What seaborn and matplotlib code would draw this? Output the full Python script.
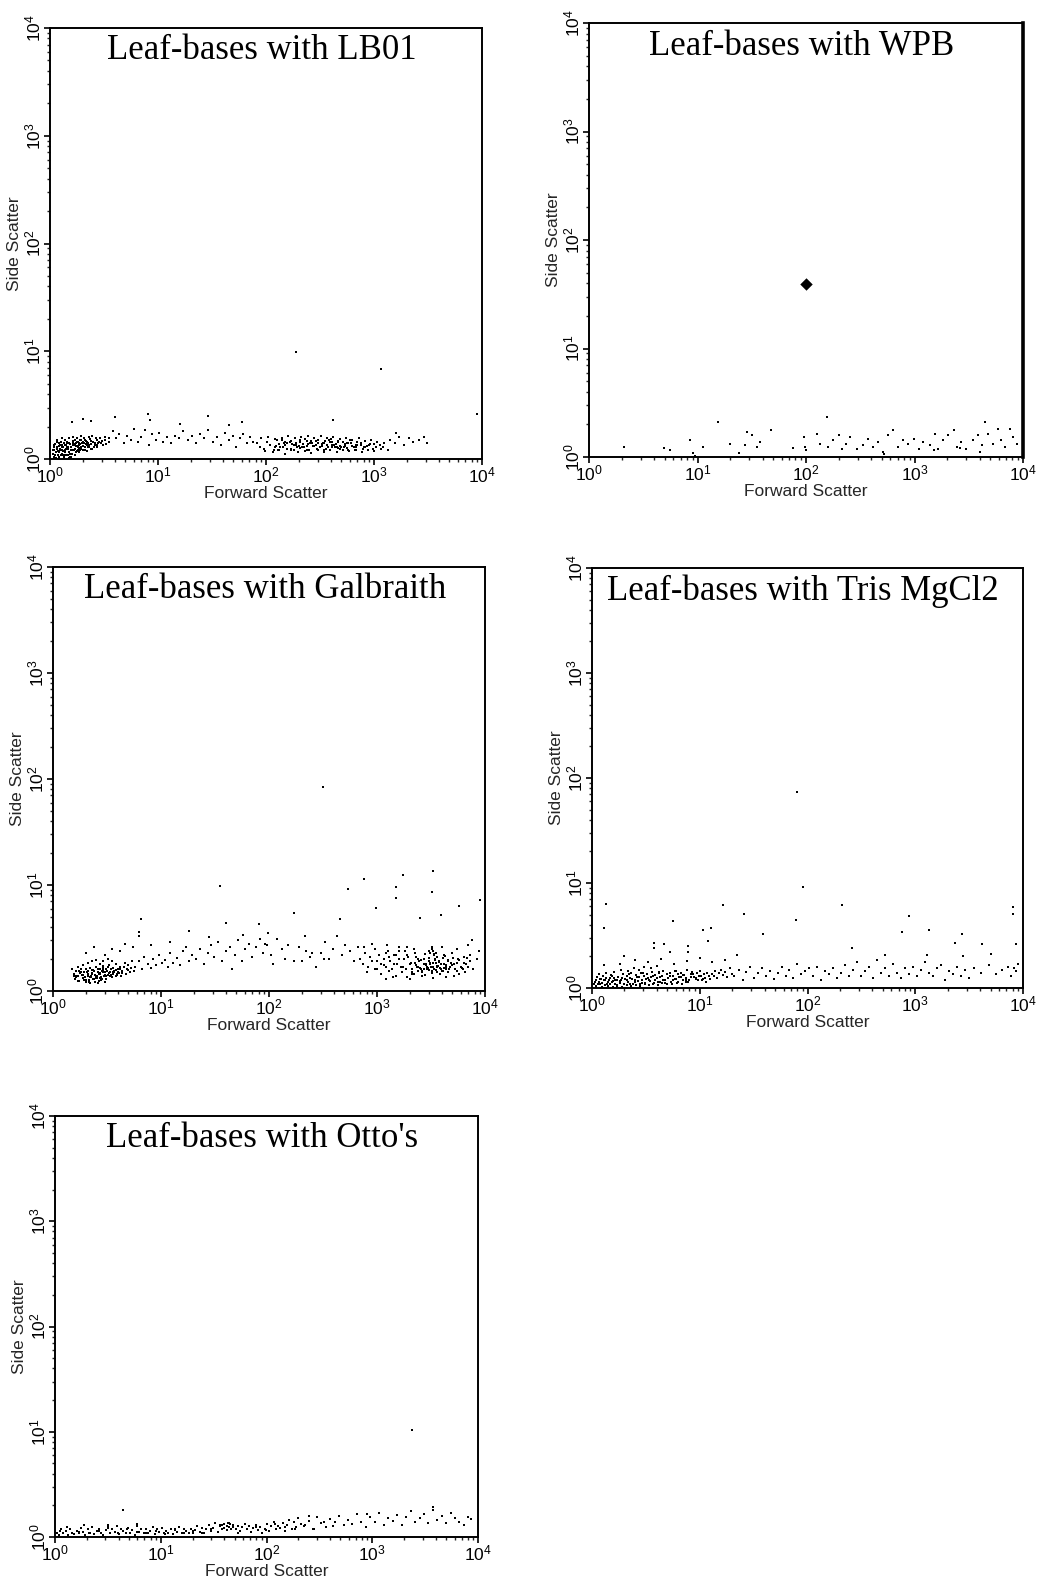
import matplotlib
matplotlib.use("Agg")
import matplotlib.pyplot as plt
import numpy as np
import pandas as pd
import seaborn as sns
from matplotlib.ticker import LogLocator, LogFormatterSciNotation, NullFormatter

# ---------------- data (Forward Scatter, Side Scatter) ----------------
titles = ["Leaf-bases with LB01", "Leaf-bases with WPB", "Leaf-bases with Galbraith",
          "Leaf-bases with Tris MgCl2", "Leaf-bases with Otto's"]
x_label = "Forward Scatter"
y_label = "Side Scatter"
decades = [1, 10, 100, 1000, 10000]

lb01_fsc = [
    1.08, 1.1, 1.12, 1.15, 1.18, 1.2, 1.22, 1.25, 1.28, 1.3,
    1.32, 1.35, 1.38, 1.4, 1.42, 1.45, 1.48, 1.5, 1.52, 1.55,
    1.58, 1.6, 1.62, 1.65, 1.68, 1.7, 1.72, 1.75, 1.78, 1.8,
    1.82, 1.85, 1.88, 1.9, 1.95, 2.0, 2.05, 2.1, 2.15, 2.2,
    2.25, 2.3, 2.35, 2.4, 2.5, 2.6, 2.7, 2.8, 2.9, 3.0,
    1.09, 1.13, 1.17, 1.21, 1.24, 1.27, 1.33, 1.37, 1.43, 1.47,
    1.1, 1.16, 1.3, 1.5, 1.64, 1.76, 1.92, 2.08, 2.28, 2.45,
    1.2, 1.36, 1.53, 1.7, 1.87, 2.02, 2.18, 2.38, 2.55, 2.75,
    1.06, 1.1, 1.14, 1.18, 1.22, 1.26, 1.3, 1.34, 1.38, 1.42,
    1.46, 1.5, 1.54, 1.58, 1.62, 1.66, 1.7, 1.74, 1.78, 1.82,
    1.86, 1.9, 1.94, 1.98, 2.04, 2.1, 2.16, 2.22, 2.3, 2.38,
    1.07, 1.11, 1.15, 1.19, 1.23, 1.28, 1.33, 1.39, 1.45, 1.51,
    1.57, 1.63, 1.69, 1.75, 1.81, 1.87, 1.93, 2.0, 2.12, 2.26,
    2.45, 2.6, 2.75, 2.95, 3.2, 3.5, 3.3, 2.65, 2.85, 3.1,
    3.2, 3.5, 3.8, 4.1, 4.4, 4.8, 5.2, 5.6, 6.0, 6.5,
    7.0, 7.6, 8.2, 8.8, 9.5, 10.3, 11.2, 12.2, 13.3, 14.5,
    15.8, 17.2, 18.8, 20.5, 22.4, 24.5, 26.8, 29.3, 32, 35,
    38, 41.5, 45, 49, 53, 57, 61, 66, 71, 76,
    1.6, 2.0, 2.4, 4.0, 8.0, 8.5, 16, 29, 45, 60,
    82, 88, 95, 102, 110, 118, 127, 136, 146, 157,
    168, 180, 193, 207, 222, 238, 255, 273, 292, 313,
    335, 358, 383, 410, 438, 468, 500, 535, 572, 612,
    655, 700, 750, 800, 860, 920, 985, 1050, 1130, 1220,
    90, 105, 122, 140, 160, 185, 212, 245, 280, 320,
    365, 420, 480, 550, 630, 720, 820, 940, 1070, 1250,
    98, 115, 132, 150, 172, 198, 228, 262, 300, 345,
    395, 450, 515, 590, 675, 770, 880, 1000, 1150, 1350,
    125, 150, 175, 205, 240, 280, 330, 390, 460, 540,
    120, 132, 145, 158, 172, 188, 205, 224, 244, 266,
    290, 316, 345, 376, 410, 447, 487, 531, 579, 631,
    688, 750, 818, 892, 130, 155, 182, 214, 252, 296,
    348, 410, 482, 567, 667, 785, 140, 170, 230, 260,
    300, 350, 400, 460, 520, 600, 700, 200, 330, 430,
    150, 190, 240, 300, 370, 450, 560, 680, 830, 1000,
    1400, 1550, 1700, 1900, 2100, 2300, 2600, 2900, 3100, 1600,
    190, 1150, 9000, 420,
]
lb01_ssc = [
    1.05, 1.2, 1.1, 1.3, 1.08, 1.15, 1.4, 1.22, 1.12, 1.3,
    1.18, 1.05, 1.35, 1.25, 1.1, 1.45, 1.3, 1.15, 1.38, 1.22,
    1.28, 1.12, 1.42, 1.2, 1.35, 1.5, 1.25, 1.4, 1.18, 1.32,
    1.45, 1.27, 1.38, 1.2, 1.5, 1.33, 1.42, 1.28, 1.48, 1.36,
    1.4, 1.3, 1.52, 1.38, 1.45, 1.35, 1.5, 1.42, 1.55, 1.48,
    1.02, 1.15, 1.25, 1.05, 1.35, 1.45, 1.1, 1.2, 1.3, 1.08,
    1.35, 1.5, 1.55, 1.58, 1.6, 1.55, 1.62, 1.58, 1.6, 1.65,
    1.0, 1.08, 1.05, 1.1, 1.15, 1.2, 1.18, 1.25, 1.28, 1.3,
    1.12, 1.28, 1.02, 1.18, 1.32, 1.08, 1.22, 1.42, 1.15, 1.35,
    1.25, 1.4, 1.12, 1.3, 1.48, 1.22, 1.38, 1.15, 1.45, 1.28,
    1.35, 1.5, 1.25, 1.42, 1.32, 1.5, 1.38, 1.45, 1.35, 1.48,
    1.2, 1.38, 1.45, 1.1, 1.25, 1.36, 1.28, 1.5, 1.4, 1.02,
    1.05, 1.35, 1.25, 1.32, 1.22, 1.4, 1.3, 1.45, 1.22, 1.3,
    1.25, 1.42, 1.35, 1.4, 1.5, 1.55, 1.38, 1.55, 1.45, 1.35,
    1.6, 1.45, 1.8, 1.55, 1.7, 1.4, 1.65, 1.5, 1.9, 1.45,
    1.6, 1.85, 1.35, 1.7, 1.5, 1.75, 1.45, 1.6, 1.4, 1.65,
    1.55, 1.8, 1.5, 1.65, 1.4, 1.7, 1.55, 1.85, 1.45, 1.6,
    1.35, 1.75, 1.5, 1.65, 1.3, 1.55, 1.7, 1.4, 1.6, 1.45,
    2.2, 2.35, 2.25, 2.45, 2.6, 2.3, 2.1, 2.5, 2.05, 2.2,
    1.4, 1.3, 1.25, 1.45, 1.35, 1.2, 1.5, 1.3, 1.4, 1.25,
    1.45, 1.35, 1.28, 1.5, 1.38, 1.22, 1.42, 1.32, 1.48, 1.3,
    1.4, 1.25, 1.5, 1.35, 1.3, 1.45, 1.28, 1.38, 1.22, 1.42,
    1.3, 1.35, 1.4, 1.28, 1.32, 1.38, 1.25, 1.3, 1.35, 1.28,
    1.55, 1.6, 1.52, 1.58, 1.62, 1.55, 1.6, 1.65, 1.58, 1.62,
    1.55, 1.6, 1.52, 1.58, 1.5, 1.55, 1.48, 1.5, 1.45, 1.42,
    1.18, 1.15, 1.22, 1.12, 1.2, 1.16, 1.18, 1.14, 1.2, 1.17,
    1.2, 1.15, 1.22, 1.18, 1.2, 1.16, 1.22, 1.18, 1.25, 1.2,
    1.33, 1.43, 1.37, 1.27, 1.47, 1.33, 1.37, 1.43, 1.27, 1.33,
    1.28, 1.38, 1.3, 1.42, 1.25, 1.35, 1.45, 1.3, 1.38, 1.42,
    1.35, 1.28, 1.42, 1.3, 1.45, 1.38, 1.33, 1.28, 1.4, 1.32,
    1.3, 1.36, 1.28, 1.34, 1.2, 1.25, 1.22, 1.28, 1.2, 1.25,
    1.22, 1.28, 1.23, 1.26, 1.2, 1.25, 1.5, 1.48, 1.52, 1.46,
    1.5, 1.46, 1.52, 1.48, 1.44, 1.5, 1.45, 1.32, 1.33, 1.36,
    1.35, 1.4, 1.33, 1.4, 1.35, 1.3, 1.42, 1.36, 1.3, 1.38,
    1.5, 1.4, 1.6, 1.35, 1.55, 1.45, 1.5, 1.6, 1.4, 1.75,
    9.8, 6.8, 2.6, 2.3,
]

wpb_fsc = [
    2.1, 4.9, 5.6, 8.5, 9.1, 11.3, 15.5, 20, 24, 27.5,
    28.4, 31.6, 35, 38, 48, 76, 95, 98, 100, 126,
    135, 155, 160, 178, 200, 213, 236, 252, 293, 338,
    375, 417, 465, 515, 575, 635, 710, 790, 875, 980,
    1090, 1200, 1390, 1540, 1660, 1850, 2050, 2290, 2450, 2700,
    3000, 3470, 3880, 4150, 4460, 4800, 5330, 5900, 6330, 6800,
    7600, 8150, 8750, 9.5, 520, 1500, 2600, 4000,
]
wpb_ssc = [
    1.24, 1.2, 1.15, 1.42, 1.1, 1.24, 2.1, 1.33, 1.1, 1.28,
    1.7, 1.6, 1.24, 1.37, 1.76, 1.2, 1.53, 1.24, 1.15, 1.64,
    1.33, 2.34, 1.24, 1.42, 1.58, 1.19, 1.33, 1.53, 1.19, 1.28,
    1.48, 1.24, 1.37, 1.11, 1.58, 1.76, 1.24, 1.42, 1.33, 1.48,
    1.19, 1.37, 1.28, 1.64, 1.19, 1.42, 1.58, 1.76, 1.24, 1.37,
    1.19, 1.42, 1.58, 1.28, 2.1, 1.64, 1.33, 1.83, 1.42, 1.24,
    1.83, 1.53, 1.33, 1.03, 1.06, 1.15, 1.2, 1.12,
]
wpb_big_fsc = [100]
wpb_big_ssc = [39]

galb_fsc = [
    1.55, 1.6, 1.65, 1.7, 1.75, 1.8, 1.85, 1.9, 1.95, 2.0,
    2.05, 2.1, 2.15, 2.2, 2.25, 2.3, 2.35, 2.4, 2.45, 2.5,
    2.55, 2.6, 2.65, 2.7, 2.75, 2.8, 2.85, 2.9, 2.95, 3.0,
    3.1, 3.2, 3.3, 3.4, 3.5, 3.6, 3.7, 3.8, 3.9, 4.0,
    4.2, 4.4, 4.6, 4.8, 5.0, 5.2, 5.4, 2.2, 2.6, 3.0,
    1.5, 1.7, 1.9, 2.1, 2.3, 2.5, 2.7, 2.9, 3.2, 3.5,
    1.62, 1.78, 1.98, 2.12, 2.32, 2.48, 2.68, 2.88, 3.08, 3.28,
    3.45, 3.65, 3.85, 4.1, 4.3, 4.5, 4.75, 5.0, 5.3, 5.6,
    1.65, 1.8, 1.95, 2.1, 2.25, 2.4, 2.55, 2.7, 2.85, 3.0,
    3.15, 3.3, 3.45, 3.6, 3.8, 4.0, 4.2, 4.4, 1.72, 1.88,
    2.02, 2.18, 2.36, 2.52, 2.78, 2.92, 3.12, 3.38, 3.62, 3.9,
    2.0, 2.3, 2.6, 2.9, 3.2, 2.15, 2.45, 2.75, 1.75, 1.58,
    2.0, 2.4, 3.0, 3.5, 4.2, 4.6, 5.5, 6.2, 6.5, 6.3,
    5.8, 6.2, 6.6, 7.0, 7.5, 8.0, 8.5, 9.0, 9.6, 10.2,
    10.8, 11.5, 12.2, 13, 14, 15, 16, 17, 18, 19.5,
    21, 23, 25, 27, 29, 31, 34, 37, 40, 44,
    48, 52, 56, 60, 65, 70, 76, 82, 88, 95,
    35, 40, 58, 80, 98, 28, 18, 12, 8, 45,
    92, 105, 118, 132, 150, 170, 190, 215, 240, 270,
    300, 330, 360, 395, 430, 470, 510, 560, 610, 660,
    110, 140, 200, 250, 170, 320, 450, 540, 316, 220,
    700, 740, 780, 820, 860, 900, 950, 1000, 1050, 1100,
    1150, 1200, 1260, 1320, 1380, 1450, 1520, 1600, 1680, 1760,
    1850, 1940, 2030, 2130, 2230, 2340, 2450, 2570, 2700, 2830,
    2970, 3110, 3260, 3420, 3590, 3760, 3950, 4140, 4340, 4550,
    4780, 5010, 5250, 5510, 5780, 6060, 6360, 6670, 7000, 7340,
    2200, 2400, 2600, 2800, 3000, 3200, 3400, 3600, 3800, 4000,
    2300, 2500, 2700, 2900, 3100, 3300, 3500, 3700, 3900, 4200,
    800, 950, 1100, 1300, 1500, 1700, 1900, 2100, 4500, 5200,
    750, 900, 1250, 1600, 1900, 2200, 3000, 4000, 5500, 7000,
    1200, 1400, 2000, 2600, 3300, 4400, 5800, 6500, 7800, 8500,
    2100, 2250, 2400, 2550, 2700, 2850, 3000, 3150, 3300, 3450,
    3600, 3750, 3900, 4050, 4200, 4350, 4500, 4650, 4800, 4950,
    1000, 1150, 1300, 1450, 1600, 1750, 1900, 2050, 5200, 5600,
    6000, 6400, 6800, 1200, 1500, 1800, 2300, 2800, 3500, 4300,
    2600, 2900, 3200, 3500, 3800, 4100, 4400, 2400, 3000, 3600,
    3100, 3300, 3400, 3200, 3350, 3250, 5000, 5500, 6200, 7200,
    1740, 760, 3300, 1500, 1500, 3200, 5800, 8900, 980, 2500,
    3900, 8800, 7600,
]
galb_ssc = [
    1.45, 1.3, 1.55, 1.38, 1.25, 1.6, 1.42, 1.33, 1.5, 1.28,
    1.52, 1.4, 1.22, 1.65, 1.35, 1.48, 1.58, 1.3, 1.42, 1.7,
    1.38, 1.5, 1.25, 1.62, 1.45, 1.35, 1.55, 1.72, 1.4, 1.5,
    1.6, 1.42, 1.75, 1.5, 1.35, 1.65, 1.55, 1.8, 1.45, 1.62,
    1.7, 1.55, 1.85, 1.6, 1.75, 1.5, 1.9, 1.2, 1.18, 1.22,
    1.6, 1.7, 1.75, 1.85, 1.9, 1.95, 1.8, 1.9, 2.0, 1.9,
    1.4, 1.48, 1.36, 1.56, 1.44, 1.32, 1.46, 1.52, 1.38, 1.48,
    1.42, 1.52, 1.38, 1.48, 1.4, 1.68, 1.45, 1.58, 1.65, 1.55,
    1.35, 1.5, 1.28, 1.45, 1.38, 1.55, 1.32, 1.48, 1.3, 1.42,
    1.55, 1.48, 1.6, 1.45, 1.58, 1.5, 1.62, 1.48, 1.25, 1.42,
    1.22, 1.35, 1.3, 1.4, 1.28, 1.58, 1.3, 1.38, 1.5, 1.42,
    1.6, 1.58, 1.62, 1.65, 1.68, 1.27, 1.22, 1.32, 1.55, 1.38,
    2.3, 2.6, 2.2, 2.5, 2.4, 2.8, 2.6, 3.3, 4.8, 3.6,
    1.7, 1.9, 1.6, 2.1, 1.8, 1.65, 2.0, 1.75, 2.2, 1.85,
    1.95, 1.7, 2.3, 1.85, 2.05, 1.75, 2.4, 2.6, 1.9, 2.2,
    2.0, 2.5, 1.8, 2.3, 2.7, 2.1, 2.9, 1.9, 2.4, 2.6,
    2.2, 3.0, 1.9, 2.5, 2.8, 2.1, 2.6, 3.1, 2.3, 2.7,
    9.8, 4.4, 3.4, 4.3, 3.5, 3.2, 3.7, 2.9, 2.7, 1.6,
    2.8, 2.2, 3.1, 2.5, 2.7, 1.9, 2.6, 3.3, 2.1, 1.7,
    2.3, 2.9, 2.0, 2.5, 3.3, 2.2, 2.7, 2.4, 1.9, 2.6,
    1.8, 2.0, 1.9, 2.3, 5.5, 2.0, 4.8, 9.1, 84, 2.4,
    2.0, 1.8, 2.3, 1.7, 2.1, 1.9, 2.5, 1.6, 2.2, 1.8,
    2.0, 1.7, 2.4, 1.9, 1.6, 2.2, 1.8, 2.6, 1.7, 2.0,
    1.6, 2.1, 1.8, 1.5, 2.3, 1.7, 1.9, 1.6, 2.0, 1.75,
    1.65, 1.85, 1.55, 2.0, 1.7, 1.9, 1.6, 2.2, 1.75, 1.95,
    1.7, 2.05, 1.6, 1.85, 1.95, 1.65, 2.1, 1.8, 1.7, 1.9,
    1.45, 1.55, 1.5, 1.42, 1.58, 1.48, 1.62, 1.52, 1.45, 1.55,
    1.75, 1.65, 1.8, 1.7, 1.78, 1.68, 1.82, 1.72, 1.8, 1.65,
    1.5, 1.6, 1.45, 1.55, 1.4, 1.5, 1.35, 1.45, 1.5, 1.4,
    2.6, 2.8, 2.7, 2.4, 2.6, 2.5, 2.4, 2.6, 2.5, 2.7,
    1.3, 1.35, 1.3, 1.38, 1.32, 1.35, 1.45, 1.5, 1.6, 2.0,
    1.62, 1.85, 1.7, 1.95, 1.6, 1.78, 1.9, 1.68, 1.82, 1.95,
    1.72, 1.88, 1.62, 2.05, 1.8, 1.7, 1.92, 1.6, 1.85, 1.75,
    1.9, 1.75, 2.1, 1.8, 2.0, 1.7, 2.2, 1.85, 1.8, 2.0,
    1.7, 1.85, 2.05, 2.3, 2.2, 2.4, 2.1, 2.25, 2.3, 2.15,
    1.55, 1.6, 1.52, 1.58, 1.65, 1.55, 1.62, 2.0, 2.05, 2.1,
    2.3, 2.4, 2.25, 2.5, 2.2, 2.6, 2.3, 1.55, 1.6, 2.2,
    12.4, 11.3, 13.7, 9.5, 7.5, 8.6, 6.4, 7.2, 6.1, 4.9,
    5.2, 2.4, 3.0,
]

tris_fsc = [
    1.05, 1.08, 1.1, 1.12, 1.15, 1.18, 1.2, 1.23, 1.26, 1.3,
    1.33, 1.36, 1.4, 1.44, 1.48, 1.52, 1.56, 1.6, 1.65, 1.7,
    1.75, 1.8, 1.86, 1.92, 1.98, 2.04, 2.1, 2.17, 2.24, 2.32,
    2.4, 2.48, 2.56, 2.65, 2.74, 2.84, 2.94, 3.04, 3.15, 3.26,
    3.38, 3.5, 3.62, 3.75, 3.88, 4.02, 4.16, 4.3, 4.45, 4.6,
    4.76, 4.93, 5.1, 5.28, 5.46, 5.65, 5.85, 6.05, 6.26, 6.48,
    6.7, 6.94, 7.18, 7.43, 7.69, 7.96, 8.24, 8.53, 8.83, 9.14,
    9.46, 9.8, 10.1, 10.5, 10.9, 11.3, 11.7, 12.1, 12.5, 13,
    1.1, 1.25, 1.4, 1.55, 1.72, 1.9, 2.1, 2.3, 2.55, 2.8,
    3.1, 3.4, 3.7, 4.1, 4.5, 5.0, 5.5, 6.1, 6.8, 7.5,
    1.15, 1.35, 1.6, 1.85, 2.15, 2.45, 2.75, 3.05, 3.5, 4.0,
    13.5, 14, 14.6, 15.2, 15.8, 16.5, 17.2, 18, 19, 20,
    1.07, 1.13, 1.19, 1.25, 1.31, 1.38, 1.46, 1.54, 1.62, 1.71,
    1.8, 1.9, 2.0, 2.12, 2.24, 2.36, 2.5, 2.64, 2.78, 2.94,
    3.1, 3.28, 3.46, 3.66, 3.86, 4.08, 4.3, 4.55, 4.8, 5.05,
    5.35, 5.65, 5.95, 6.3, 6.65, 7.0, 7.4, 7.8, 8.25, 8.7,
    9.2, 9.7, 10.3, 10.8, 11.4, 1.5, 2.2, 3.0, 4.2, 6.0,
    1.3, 1.8, 2.5, 3.3, 4.4, 5.8, 7.6, 10, 13, 17,
    1.36, 1.3, 5.6, 3.8, 4.7, 7.8, 7.8, 10.7, 12.8, 12,
    16.5, 26, 39, 78, 91, 5.3, 3.8, 22, 80, 2.0,
    21, 23, 25, 27, 29, 32, 35, 38, 41, 45,
    49, 53, 58, 63, 68, 74, 80, 87, 95, 103,
    112, 122, 133, 145, 158, 172, 187, 204, 222, 242,
    263, 287, 313, 340, 370, 403, 440, 478, 520, 567,
    617, 672, 732, 797, 868, 945, 1030, 1120, 1220, 1330,
    1450, 1580, 1720, 1870, 2040, 2220, 2420, 2640, 2870, 3130,
    3500, 4100, 4800, 5600, 6400, 7200, 7800, 8200, 8600, 9000,
    210, 870, 760, 1340, 2700, 2350, 4200, 8100, 8100, 257,
    520, 1290, 5000, 2800, 8600,
]
tris_ssc = [
    1.1, 1.2, 1.05, 1.28, 1.15, 1.08, 1.22, 1.12, 1.3, 1.18,
    1.06, 1.25, 1.14, 1.2, 1.1, 1.3, 1.16, 1.24, 1.08, 1.2,
    1.28, 1.12, 1.18, 1.35, 1.1, 1.22, 1.3, 1.15, 1.25, 1.38,
    1.1, 1.2, 1.32, 1.16, 1.26, 1.4, 1.12, 1.3, 1.22, 1.35,
    1.18, 1.28, 1.42, 1.12, 1.32, 1.24, 1.38, 1.15, 1.3, 1.45,
    1.2, 1.35, 1.25, 1.4, 1.15, 1.3, 1.45, 1.22, 1.36, 1.28,
    1.4, 1.18, 1.32, 1.25, 1.48, 1.2, 1.35, 1.42, 1.28, 1.22,
    1.38, 1.3, 1.45, 1.2, 1.35, 1.25, 1.4, 1.3, 1.22, 1.36,
    1.02, 1.03, 1.04, 1.02, 1.05, 1.03, 1.06, 1.04, 1.07, 1.05,
    1.08, 1.06, 1.1, 1.07, 1.12, 1.1, 1.08, 1.12, 1.1, 1.14,
    1.35, 1.4, 1.42, 1.5, 1.45, 1.55, 1.5, 1.6, 1.55, 1.62,
    1.3, 1.45, 1.25, 1.38, 1.5, 1.32, 1.42, 1.28, 1.55, 1.35,
    1.15, 1.08, 1.22, 1.12, 1.2, 1.1, 1.25, 1.14, 1.18, 1.06,
    1.16, 1.24, 1.08, 1.18, 1.1, 1.22, 1.14, 1.28, 1.08, 1.18,
    1.12, 1.24, 1.16, 1.3, 1.2, 1.14, 1.26, 1.2, 1.12, 1.25,
    1.3, 1.18, 1.22, 1.14, 1.26, 1.32, 1.2, 1.15, 1.28, 1.35,
    1.25, 1.18, 1.3, 1.22, 1.15, 1.32, 1.35, 1.38, 1.42, 1.45,
    1.65, 1.7, 1.85, 1.75, 1.9, 1.7, 1.8, 1.95, 1.75, 1.85,
    6.3, 3.7, 4.3, 2.7, 2.6, 2.5, 2.2, 3.6, 3.7, 2.8,
    6.2, 5.1, 3.3, 4.4, 9.1, 2.2, 2.4, 2.06, 74, 2.0,
    1.3, 1.5, 1.2, 1.42, 1.6, 1.25, 1.38, 1.55, 1.3, 1.45,
    1.22, 1.4, 1.6, 1.3, 1.5, 1.25, 1.7, 1.35, 1.45, 1.55,
    1.3, 1.6, 1.2, 1.45, 1.35, 1.55, 1.25, 1.4, 1.65, 1.3,
    1.5, 1.75, 1.3, 1.45, 1.6, 1.25, 1.85, 1.4, 1.55, 1.3,
    1.7, 1.4, 1.25, 1.55, 1.35, 1.6, 1.3, 1.5, 1.75, 1.4,
    1.3, 1.55, 1.65, 1.2, 1.45, 1.35, 1.6, 1.3, 1.5, 1.25,
    1.55, 1.4, 1.65, 1.35, 1.5, 1.6, 1.3, 1.55, 1.45, 1.7,
    6.2, 4.8, 3.4, 3.6, 3.3, 2.7, 2.6, 5.9, 5.1, 2.4,
    2.06, 2.06, 2.1, 2.0, 2.6,
]

otto_fsc = [
    1.05, 1.1, 1.15, 1.2, 1.26, 1.32, 1.38, 1.45, 1.52, 1.6,
    1.68, 1.76, 1.85, 1.94, 2.04, 2.14, 2.25, 2.36, 2.48, 2.6,
    2.73, 2.87, 3.01, 3.16, 3.32, 3.49, 3.66, 3.84, 4.03, 4.23,
    4.44, 4.66, 4.9, 5.14, 5.4, 5.67, 5.95, 6.25, 6.56, 6.89,
    7.23, 7.6, 7.97, 8.37, 8.79, 9.23, 9.69, 10.2, 10.7, 11.2,
    11.8, 12.4, 13, 13.6, 14.3, 15, 15.8, 16.6, 17.4, 18.3,
    19.2, 20.2, 21.2, 22.2, 23.3, 24.5, 25.7, 27, 28.4, 29.8,
    31.3, 32.8, 34.5, 36.2, 38, 39.9, 41.9, 44, 46.2, 48.5,
    51, 53.5, 56.2, 59, 62, 65, 68.3, 71.7, 75.3, 79,
    83, 87, 91.5, 96, 101, 106, 111, 117, 123, 129,
    135, 142, 150, 157, 165, 173, 182, 191, 200, 210,
    225, 250, 275, 300, 330, 365, 400, 440, 485, 535,
    590, 650, 715, 790, 870, 960, 1060, 1170, 1290, 1420,
    1560, 1720, 1900, 2090, 2300, 2540, 2800, 3080, 3400, 3740,
    4120, 4540, 5000, 5500, 6060, 6680, 7350, 8100, 8600, 3750,
    38, 42, 45, 48, 40, 43, 46, 1.3, 1.9, 4.4,
    1.12, 1.4, 1.7, 2.1, 2.6, 3.2, 3.9, 4.8, 5.9, 7.3,
    9, 11, 13.5, 16.5, 20, 24.5, 30, 36, 44, 54,
    66, 80, 98, 120, 150, 185, 230, 280, 350, 430,
    2400, 6.0, 3.2, 250, 900,
]
otto_ssc = [
    1.1, 1.05, 1.18, 1.08, 1.14, 1.04, 1.2, 1.1, 1.06, 1.15,
    1.08, 1.22, 1.12, 1.05, 1.18, 1.1, 1.25, 1.06, 1.14, 1.2,
    1.1, 1.04, 1.16, 1.24, 1.08, 1.18, 1.12, 1.28, 1.06, 1.2,
    1.14, 1.08, 1.22, 1.1, 1.16, 1.05, 1.26, 1.12, 1.18, 1.08,
    1.2, 1.1, 1.15, 1.25, 1.06, 1.18, 1.12, 1.22, 1.08, 1.15,
    1.1, 1.2, 1.06, 1.16, 1.12, 1.24, 1.08, 1.18, 1.14, 1.1,
    1.2, 1.08, 1.16, 1.28, 1.12, 1.22, 1.1, 1.18, 1.3, 1.14,
    1.22, 1.35, 1.12, 1.28, 1.2, 1.32, 1.16, 1.25, 1.18, 1.3,
    1.2, 1.28, 1.14, 1.24, 1.34, 1.18, 1.26, 1.12, 1.22, 1.3,
    1.16, 1.25, 1.1, 1.2, 1.32, 1.14, 1.26, 1.4, 1.18, 1.28,
    1.22, 1.35, 1.15, 1.3, 1.45, 1.2, 1.38, 1.25, 1.5, 1.32,
    1.28, 1.42, 1.2, 1.55, 1.35, 1.25, 1.48, 1.38, 1.6, 1.3,
    1.45, 1.32, 1.65, 1.4, 1.25, 1.55, 1.38, 1.7, 1.3, 1.5,
    1.42, 1.62, 1.3, 1.55, 1.75, 1.38, 1.5, 1.65, 1.35, 1.8,
    1.45, 1.6, 1.35, 1.7, 1.5, 1.4, 1.3, 1.55, 1.48, 1.94,
    1.3, 1.28, 1.32, 1.25, 1.22, 1.35, 1.2, 1.25, 1.3, 1.8,
    1.14, 1.2, 1.12, 1.08, 1.15, 1.22, 1.1, 1.18, 1.12, 1.08,
    1.14, 1.06, 1.18, 1.1, 1.14, 1.1, 1.2, 1.3, 1.36, 1.1,
    1.18, 1.24, 1.16, 1.32, 1.24, 1.18, 1.3, 1.2, 1.4, 1.26,
    10.4, 1.32, 1.3, 1.6, 1.65,
]

# ---------------- figure ----------------
sns.set_style("ticks")
plt.rcParams["font.family"] = ["Liberation Sans", "DejaVu Sans"]
plt.rcParams["mathtext.fontset"] = "custom"
plt.rcParams["mathtext.rm"] = "Liberation Sans"
plt.rcParams["mathtext.it"] = "Liberation Sans:italic"

W, H = 1048, 1582
fig = plt.figure(figsize=(W / 100, H / 100), dpi=100)

# axes boxes in pixels: left, top, right, bottom
boxes = [
    (50, 28, 482, 459),
    (589, 23, 1023, 457),
    (53, 567, 485, 991),
    (592, 568, 1023, 988),
    (55, 1116, 478, 1537),
]
datasets = [
    (lb01_fsc, lb01_ssc),
    (wpb_fsc, wpb_ssc),
    (galb_fsc, galb_ssc),
    (tris_fsc, tris_ssc),
    (otto_fsc, otto_ssc),
]

for i, ((l, t, r, b), (xs, ys), title) in enumerate(zip(boxes, datasets, titles)):
    ax = fig.add_axes([l / W, 1 - b / H, (r - l) / W, (b - t) / H])
    df = pd.DataFrame({"fsc": xs, "ssc": ys})
    sns.scatterplot(data=df, x="fsc", y="ssc", ax=ax, s=4, marker="s",
                    color="black", linewidth=0, legend=False)
    if i == 1:
        big = pd.DataFrame({"fsc": wpb_big_fsc, "ssc": wpb_big_ssc})
        sns.scatterplot(data=big, x="fsc", y="ssc", ax=ax, s=40, marker="D",
                        color="black", linewidth=0, legend=False)
    ax.set_xscale("log")
    ax.set_yscale("log")
    ax.set_xlim(decades[0], decades[-1])
    ax.set_ylim(decades[0], decades[-1])
    ax.set_xticks(decades)
    ax.set_yticks(decades)
    ax.xaxis.set_major_formatter(LogFormatterSciNotation())
    ax.yaxis.set_major_formatter(LogFormatterSciNotation())
    ax.xaxis.set_minor_locator(LogLocator(base=10, subs=np.arange(2, 10)))
    ax.yaxis.set_minor_locator(LogLocator(base=10, subs=np.arange(2, 10)))
    ax.xaxis.set_minor_formatter(NullFormatter())
    ax.yaxis.set_minor_formatter(NullFormatter())
    ax.tick_params(axis="both", which="major", direction="out", length=4,
                   width=1.2, labelsize=12.5, pad=1, colors="black")
    ax.tick_params(axis="both", which="minor", direction="out", length=2.5,
                   width=1.0)
    ax.tick_params(axis="y", labelrotation=90)
    for lab in ax.get_yticklabels():
        lab.set_va("center")
    for side, sp in ax.spines.items():
        sp.set_visible(True)
        sp.set_color("black")
        sp.set_linewidth(1.4)
    if i == 1:
        ax.spines["right"].set_linewidth(2.6)
    ax.set_xlabel(x_label, fontsize=12.5, labelpad=0)
    ax.set_ylabel(y_label, fontsize=12.5, labelpad=1)
    ax.text(0.49, 0.985, title, transform=ax.transAxes, ha="center", va="top",
            family=["Liberation Serif", "DejaVu Serif"], fontsize=25,
            color="black")

fig.savefig("out.png", dpi=100, facecolor="white")
